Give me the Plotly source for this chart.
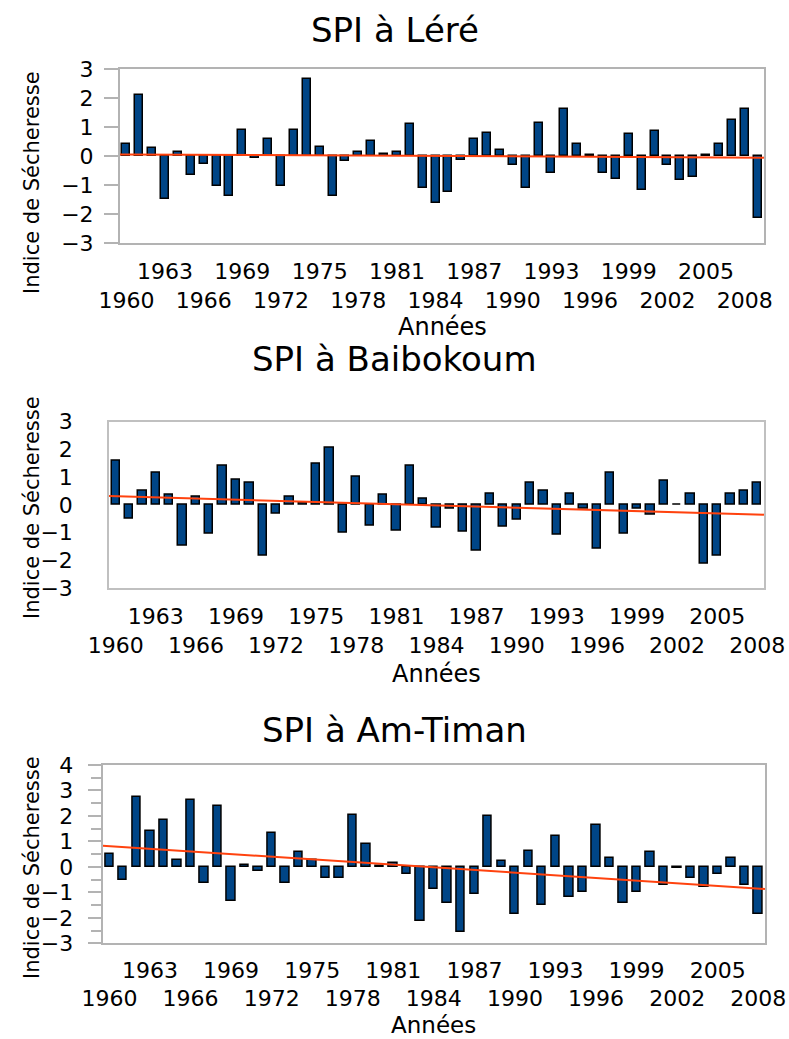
import numpy as np
import plotly.graph_objects as go

# ---------------- data ----------------
years_lere = list(range(1960, 2010))
spi_lere = [0.40, 2.09, 0.26, -1.49, 0.15, -0.66, -0.26, -1.03, -1.37, 0.91,
            -0.08, 0.60, -1.03, 0.91, 2.67, 0.32, -1.37, -0.17, 0.15, 0.52,
            0.08, 0.15, 1.11, -1.09, -1.61, -1.23, -0.13, 0.60, 0.79, 0.22,
            -0.32, -1.09, 1.13, -0.59, 1.63, 0.40, 0.02, -0.59, -0.78, 0.75,
            -1.16, 0.85, -0.32, -0.84, -0.71, 0.03, 0.40, 1.24, 1.63, -2.13]

years_baib = list(range(1960, 2009))
spi_baib = [1.58, -0.50, 0.52, 1.15, 0.38, -1.46, 0.29, -1.04, 1.40, 0.92,
            0.79, -1.82, -0.32, 0.29, 0.08, 1.48, 2.05, -1.01, 1.01, -0.73,
            0.38, -0.91, 1.40, 0.22, -0.83, -0.14, -0.95, -1.64, 0.42, -0.77,
            -0.54, 0.79, 0.50, -1.08, 0.42, -0.14, -1.58, 1.15, -1.04, -0.14,
            -0.36, 0.86, 0.02, 0.42, -2.10, -1.82, 0.42, 0.52, 0.79]

years_amt = list(range(1960, 2009))
spi_amt = [0.51, -0.51, 2.75, 1.41, 1.86, 0.29, 2.64, -0.64, 2.41, -1.35,
           0.07, -0.16, 1.35, -0.64, 0.59, 0.27, -0.45, -0.45, 2.05, 0.88,
           0.02, 0.16, -0.29, -2.12, -0.86, -1.41, -2.55, -1.06, 1.99, 0.24,
           -1.83, 0.63, -1.49, 1.22, -1.20, -0.99, 1.65, 0.35, -1.41, -0.99,
           0.58, -0.71, -0.05, -0.43, -0.79, -0.29, 0.35, -0.71, -1.85]

label_years = list(range(1960, 2009, 3))
titles = ["SPI à Léré", "SPI à Baibokoum", "SPI à Am-Timan"]
y_title = "Indice de Sécheresse"
x_title = "Années"

# ---------------- style ----------------
FONT = "DejaVu Sans"
BAR_COLOR = "#004586"
TREND_COLOR = "#ff420e"
W, H = 789, 1039

panels = [
    dict(years=years_lere, vals=spi_lere, xdom=(120, 764), ydom=(69, 243),
         yr=(-3, 3), line="#b3b3b3", lw=2, ticks=True, minor=False,
         title_y=30, ytitle_y=183, standoff=6, xt_y=327, xtl=8, xsize=24),
    dict(years=years_baib, vals=spi_baib, xdom=(109, 764), ydom=(421.7, 588.3),
         yr=(-3, 3), line="#c0c0c0", lw=1.5, ticks=False, minor=False,
         title_y=359, ytitle_y=508, standoff=16, xt_y=674, xtl=8, xsize=24),
    dict(years=years_amt, vals=spi_amt, xdom=(102.7, 765), ydom=(765, 943.3),
         yr=(-3, 4), line="#b3b3b3", lw=2, ticks=True, minor=True,
         title_y=730, ytitle_y=868, standoff=10, xt_y=1025, xtl=6, xsize=23),
]

fig = go.Figure()
annotations = []
ticktext = [("<br>" if i % 2 == 0 else "") + str(y) for i, y in enumerate(label_years)]

for k, p in enumerate(panels):
    idx = "" if k == 0 else str(k + 1)
    xa, ya = "x" + idx, "y" + idx
    yrs = np.array(p["years"], dtype=float)
    vals = np.array(p["vals"], dtype=float)
    fig.add_trace(go.Bar(x=yrs, y=vals, width=0.62, xaxis=xa, yaxis=ya,
                         marker=dict(color=BAR_COLOR, line=dict(color="black", width=1.5)),
                         showlegend=False))
    slope, icpt = np.polyfit(yrs, vals, 1)
    tx = np.array([yrs[0] - 0.5, yrs[-1] + 0.5])
    fig.add_trace(go.Scatter(x=tx, y=slope * tx + icpt, mode="lines", xaxis=xa, yaxis=ya,
                             line=dict(color=TREND_COLOR, width=2), showlegend=False))

    x0, x1 = p["xdom"]
    y0, y1 = p["ydom"]
    xaxis = dict(domain=[x0 / W, x1 / W], range=[yrs[0] - 0.5, yrs[-1] + 0.5],
                 tickvals=label_years, ticktext=ticktext, tickangle=0,
                 ticks="outside", ticklen=p["xtl"], tickcolor="rgba(0,0,0,0)",
                 showline=True, mirror=True, linecolor=p["line"], linewidth=p["lw"],
                 showgrid=False, zeroline=False, automargin=False,
                 tickfont=dict(family=FONT, size=22, color="black"),
                 anchor=ya)
    yaxis = dict(domain=[1 - y1 / H, 1 - y0 / H], range=list(p["yr"]),
                 dtick=1, showline=True, mirror=True, linecolor=p["line"], linewidth=p["lw"],
                 ticks="outside", ticklen=14 if k != 2 else 13, tickwidth=2,
                 tickcolor=p["line"] if p["ticks"] else "rgba(0,0,0,0)",
                 ticklabelstandoff=p["standoff"],
                 showgrid=False, zeroline=False, automargin=False,
                 tickfont=dict(family=FONT, size=22, color="black"),
                 anchor=xa)
    if p["minor"]:
        yaxis["minor"] = dict(dtick=0.5, ticks="outside", ticklen=10, tickwidth=2,
                              tickcolor=p["line"], showgrid=False)
    fig.update_layout(**{"xaxis" + idx: xaxis, "yaxis" + idx: yaxis})

    annotations.append(dict(text=titles[k], x=0.5, y=1 - p["title_y"] / H,
                            xref="paper", yref="paper", showarrow=False,
                            xanchor="center", yanchor="middle",
                            font=dict(family=FONT, size=34, color="black")))
    annotations.append(dict(text=y_title, x=32 / W, y=1 - p["ytitle_y"] / H,
                            xref="paper", yref="paper", showarrow=False, textangle=-90,
                            xanchor="center", yanchor="middle",
                            font=dict(family=FONT, size=21, color="black")))
    annotations.append(dict(text=x_title, x=(x0 + x1) / 2 / W, y=1 - p["xt_y"] / H,
                            xref="paper", yref="paper", showarrow=False,
                            xanchor="center", yanchor="middle",
                            font=dict(family=FONT, size=p["xsize"], color="black")))

fig.update_layout(width=W, height=H, margin=dict(l=0, r=0, t=0, b=0),
                  paper_bgcolor="white", plot_bgcolor="white",
                  bargap=0, annotations=annotations)

fig.write_html("out.html")
